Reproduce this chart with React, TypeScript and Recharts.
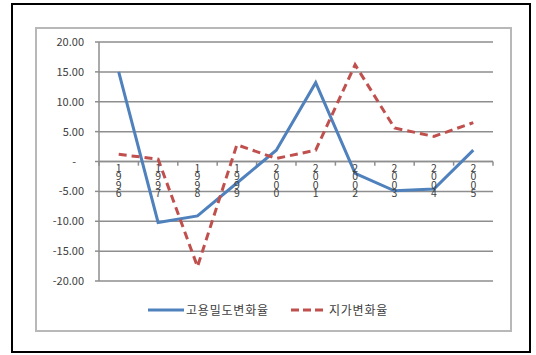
import {
  CartesianGrid,
  Line,
  LineChart,
  ReferenceDot,
  ReferenceLine,
  XAxis,
  YAxis,
} from "recharts"

const years = ["1996", "1997", "1998", "1999", "2000", "2001", "2002", "2003", "2004", "2005"]
const employmentDensity = [15.0, -10.2, -9.1, -3.6, 1.9, 13.2, -2.0, -4.9, -4.6, 1.9]
const landPrice = [1.2, 0.4, -17.6, 2.8, 0.5, 1.9, 16.2, 5.6, 4.2, 6.5]
const yTicks = [-20, -15, -10, -5, 0, 5, 10, 15, 20]

const seriesNames = ["고용밀도변화율", "지가변화율"]
const BLUE = "#4f81bd"
const RED = "#c0504d"
const GRID = "#8e8e8e"
const TEXT = "#404040"
const FONT = "'Noto Sans CJK KR', 'Open Sans', sans-serif"

// each category sits in the middle of its slot, boundaries fall on integers
const data = years.map((year, i) => ({
  year,
  pos: i + 0.5,
  emp: employmentDensity[i],
  land: landPrice[i],
}))
const boundaries = years.map((_, i) => i).concat(years.length)

// accounting-style labels: zero shows as a dash set in from the right
function YTick({ x, y, payload }: any) {
  const v = payload.value as number
  const label = v === 0 ? "-" : v.toFixed(2)
  const right = x - 9
  return (
    <text
      x={v === 0 ? right - 8 : right}
      y={y}
      dy={4}
      textAnchor="end"
      fontSize={11}
      fontFamily={FONT}
      fill={TEXT}
    >
      {label}
    </text>
  )
}

// year written one digit per line under the zero axis
function StackedYear({ viewBox, value }: any) {
  const chars = String(value).split("")
  return (
    <text x={viewBox.x} y={viewBox.y + 10} textAnchor="middle" fontSize={10.5} fontFamily={FONT} fill={TEXT}>
      {chars.map((c, i) => (
        <tspan key={i} x={viewBox.x} dy={i === 0 ? 0 : 8.6}>
          {c}
        </tspan>
      ))}
    </text>
  )
}

function ChartLegend() {
  const items = [
    { name: seriesNames[0], color: BLUE, dash: undefined },
    { name: seriesNames[1], color: RED, dash: "8 4" },
  ]
  return (
    <div style={{ position: "absolute", left: 148, top: 301, display: "flex", alignItems: "center", gap: 22 }}>
      {items.map((it) => (
        <div key={it.name} style={{ display: "flex", alignItems: "center" }}>
          <svg width={36} height={6}>
            <line x1={0} y1={3} x2={36} y2={3} stroke={it.color} strokeWidth={3} strokeDasharray={it.dash} />
          </svg>
          <span style={{ fontFamily: FONT, fontSize: 12, color: TEXT, letterSpacing: 0.8, marginLeft: 2 }}>
            {it.name}
          </span>
        </div>
      ))}
    </div>
  )
}

export default function App() {
  return (
    <div style={{ position: "absolute", left: 0, top: 0, width: 536, height: 355, background: "#fff" }}>
      <div
        style={{
          position: "absolute",
          left: 11,
          top: 3,
          width: 516,
          height: 346,
          border: "2px solid #000",
        }}
      />
      <div
        style={{
          position: "absolute",
          left: 35,
          top: 27,
          width: 473,
          height: 301,
          border: "2px solid #b8b8b8",
        }}
      />
      <div style={{ position: "absolute", left: 0, top: 0 }}>
        <LineChart width={536} height={355} data={data} margin={{ top: 42, right: 43, bottom: 74, left: 39 }}>
          <CartesianGrid vertical={false} stroke={GRID} strokeWidth={1.5} />
          <XAxis type="number" dataKey="pos" domain={[0, years.length]} hide />
          <YAxis
            domain={[-20, 20]}
            ticks={yTicks}
            width={60}
            interval={0}
            axisLine={{ stroke: GRID, strokeWidth: 1.5 }}
            tickLine={{ stroke: GRID, strokeWidth: 1.5 }}
            tickSize={4}
            tick={<YTick />}
          />
          <ReferenceLine y={0} stroke={GRID} strokeWidth={1.5} />
          {boundaries.map((b) => (
            <ReferenceLine
              key={b}
              segment={[
                { x: b, y: 0 },
                { x: b, y: -0.7 },
              ]}
              stroke={GRID}
              strokeWidth={1.5}
            />
          ))}
          {data.map((d) => (
            <ReferenceDot
              key={d.year}
              x={d.pos}
              y={0}
              r={0}
              fill="none"
              stroke="none"
              label={{ value: d.year, content: <StackedYear /> }}
            />
          ))}
          <Line
            type="linear"
            dataKey="emp"
            name={seriesNames[0]}
            stroke={BLUE}
            strokeWidth={3}
            dot={false}
            isAnimationActive={false}
          />
          <Line
            type="linear"
            dataKey="land"
            name={seriesNames[1]}
            stroke={RED}
            strokeWidth={3}
            strokeDasharray="8 5"
            dot={false}
            isAnimationActive={false}
          />
        </LineChart>
      </div>
      <ChartLegend />
    </div>
  )
}
